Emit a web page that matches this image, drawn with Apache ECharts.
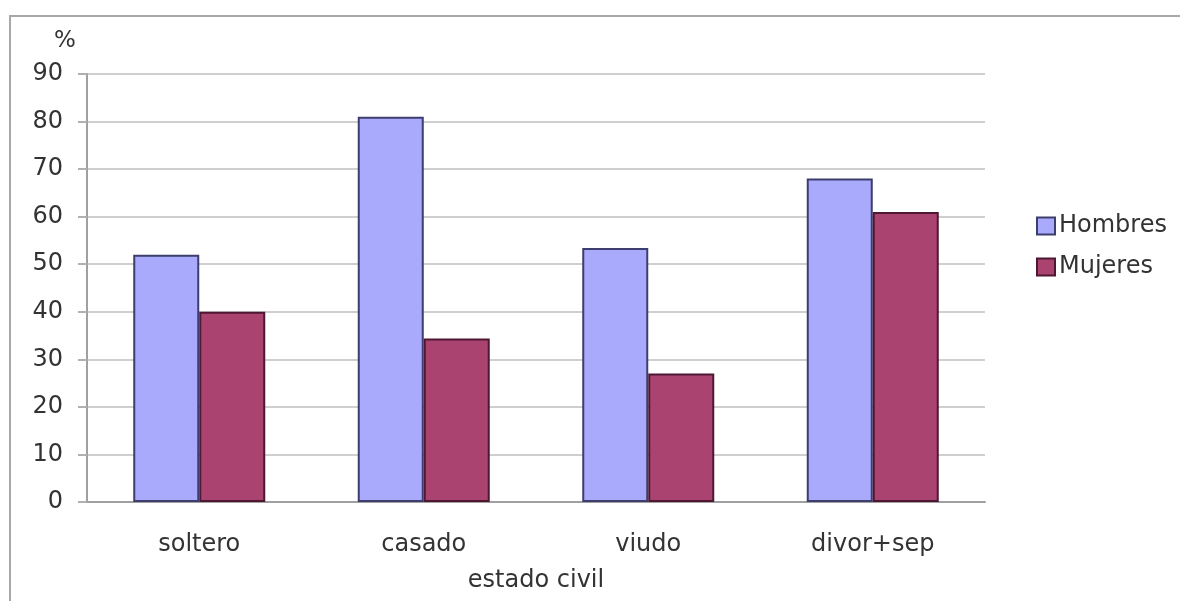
<!DOCTYPE html>
<html>
<head>
<meta charset="utf-8">
<script src="https://cdn.jsdelivr.net/npm/echarts@6/dist/echarts.min.js"></script>
<style>
  html, body { margin: 0; padding: 0; background: #ffffff; }
  #chart { width: 1180px; height: 601px; }
</style>
</head>
<body>
<div id="chart"></div>
<script>
// Estado civil por sexo (%)
const categories = ['soltero', 'casado', 'viudo', 'divor+sep'];
const hombres = [52, 81, 53.4, 68];
const mujeres = [40, 34.4, 27, 61];
const yTicks = { min: 0, max: 90, interval: 10 };

const FONT = '"DejaVu Sans", "Liberation Sans", sans-serif';
const TEXT = '#333333';

const chart = echarts.init(document.getElementById('chart'), null, { renderer: 'canvas' });

chart.setOption({
  backgroundColor: '#ffffff',
  animation: false,
  textStyle: { fontFamily: FONT },
  graphic: [
    {
      type: 'rect',
      shape: { x: 10, y: 16, width: 1200, height: 620 },
      style: { fill: 'none', stroke: '#a8a8a8', lineWidth: 2 },
      silent: true
    },
    {
      type: 'text',
      left: 54, top: 30,
      style: { text: '%', font: '23px ' + FONT, fill: TEXT }
    }
  ],
  legend: {
    orient: 'vertical',
    left: 1031,
    top: 209,
    itemWidth: 18,
    itemHeight: 17,
    itemGap: 17,
    icon: 'rect',
    textStyle: { fontFamily: FONT, fontSize: 24, color: TEXT, padding: [0, 0, 0, -1] },
    data: ['Hombres', 'Mujeres']
  },
  grid: { left: 87, right: 195, top: 74, bottom: 99, containLabel: false },
  xAxis: {
    type: 'category',
    data: categories,
    name: 'estado civil',
    nameLocation: 'middle',
    nameGap: 67,
    nameTextStyle: { fontFamily: FONT, fontSize: 24, color: TEXT },
    axisLine: { lineStyle: { color: '#a0a0a0', width: 2 } },
    axisTick: { show: false },
    axisLabel: { fontFamily: FONT, fontSize: 24, color: TEXT, margin: 31 }
  },
  yAxis: {
    type: 'value',
    min: yTicks.min,
    max: yTicks.max,
    interval: yTicks.interval,
    axisLine: { show: true, lineStyle: { color: '#a0a0a0', width: 2 } },
    axisTick: { show: true, length: 9, lineStyle: { color: '#b0b0b0', width: 2 } },
    axisLabel: { fontFamily: FONT, fontSize: 24, color: TEXT, margin: 24 },
    splitLine: { lineStyle: { color: '#cfcfcf', width: 2 } }
  },
  series: [
    {
      name: 'Hombres',
      type: 'bar',
      data: hombres,
      barWidth: 66,
      barGap: '0%',
      itemStyle: { color: '#aaaafd', borderColor: '#3d3d6e', borderWidth: 2 }
    },
    {
      name: 'Mujeres',
      type: 'bar',
      data: mujeres,
      barWidth: 66,
      barGap: '0%',
      itemStyle: { color: '#aa436f', borderColor: '#4e1732', borderWidth: 2 }
    }
  ]
});
</script>
</body>
</html>
